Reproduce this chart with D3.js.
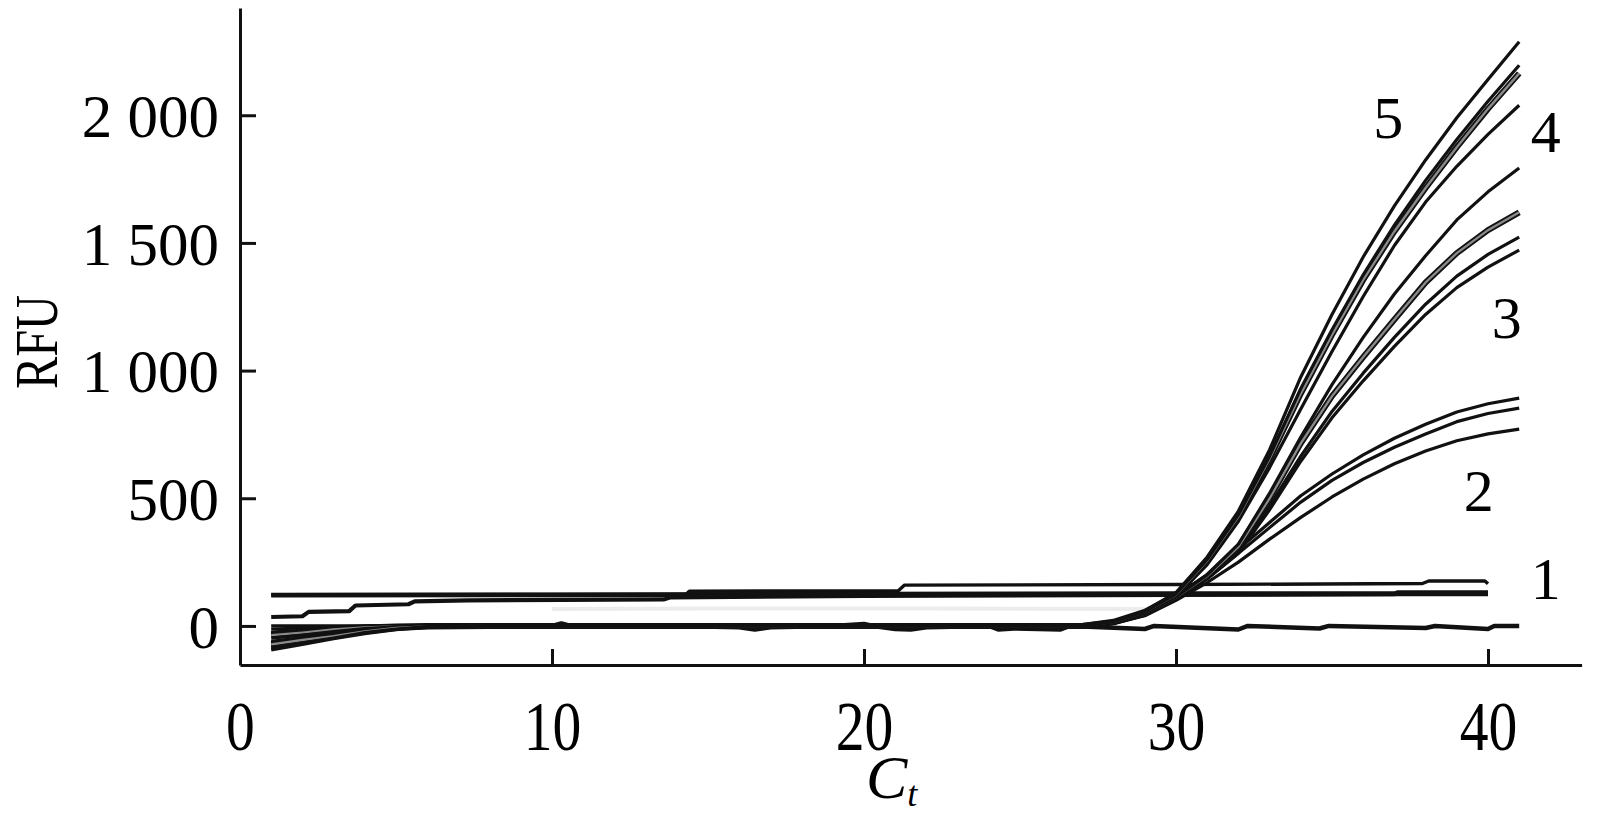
<!DOCTYPE html>
<html><head><meta charset="utf-8">
<script src="https://cdn.jsdelivr.net/npm/d3@7"></script>
<style>body{margin:0;background:#fff}svg{display:block}</style>
</head><body>
<svg id="chart" width="1599" height="815"></svg>
<script>
// ---- tick values / labels ----
const xTicks = [0, 10, 20, 30, 40];
const yTicks = [0, 500, 1000, 1500, 2000];
const yTickLabels = ["0", "500", "1 000", "1 500", "2 000"];

// ---- amplification curves: early noisy phase (cycles 1..8) ----
const startCycles = [1, 2, 3, 4, 5, 6, 8];
const start5a = [-94, -72, -50, -30, -15, -5, 0];
const start5b = [-85, -66, -48, -26, -12, -3, 0];
const start5c = [-72, -55, -40, -22, -8, -2, 0];
const start4a = [-60, -46, -30, -16, -5, 0, 0];
const start4b = [-48, -36, -22, -10, -4, 0, 0];
const start3a = [-36, -26, -14, -6, -2, 0, 0];
const start3b = [-24, -16, -8, -3, 0, 0, 0];
const start3c = [-12, -8, -4, -1, 0, 0, 0];
const start2a = [0, 0, 0, 0, 0, 0, 0];
const start2b = [-66, -52, -36, -20, -8, -2, 0];
const start2c = [-80, -60, -42, -24, -10, -3, 0];

// ---- amplification curves: exponential phase (cycles 27..41) ----
const ampCycles = [27, 28, 29, 30, 31, 32, 33, 34, 35, 36, 37, 38, 39, 40, 41];
const amp5a = [0, 18, 58, 130, 270, 450, 690, 975, 1220, 1445, 1645, 1825, 1990, 2140, 2288];
const amp5b = [0, 17, 56, 125, 260, 435, 665, 930, 1160, 1375, 1570, 1745, 1905, 2055, 2196];
const amp5c = [0, 16, 55, 122, 255, 428, 655, 910, 1140, 1355, 1545, 1715, 1875, 2025, 2164];
const amp4a = [0, 15, 52, 115, 240, 410, 620, 850, 1075, 1290, 1490, 1660, 1800, 1925, 2039];
const amp4b = [0, 14, 50, 115, 200, 320, 520, 740, 945, 1130, 1300, 1450, 1590, 1700, 1793];
const amp3a = [0, 14, 48, 112, 195, 310, 500, 715, 900, 1053, 1200, 1345, 1460, 1550, 1620];
const amp3b = [0, 13, 46, 110, 190, 295, 470, 665, 840, 990, 1130, 1260, 1370, 1455, 1523];
const amp3c = [0, 12, 45, 108, 185, 285, 455, 645, 815, 960, 1095, 1220, 1325, 1405, 1472];
const amp2a = [0, 12, 44, 110, 195, 300, 405, 510, 595, 670, 735, 790, 838, 870, 892];
const amp2b = [0, 11, 42, 106, 185, 285, 385, 485, 570, 640, 700, 752, 800, 832, 853];
const amp2c = [0, 10, 40, 100, 170, 250, 340, 425, 505, 575, 635, 685, 725, 752, 771];

// ---- negative controls (group 1) ----
const flat1Cycles = [1, 14.3, 14.4, 21.1, 21.3, 30, 37.9, 38.1, 39.9, 40];
const flat1Values = [122, 124, 136, 138, 160, 162, 166, 176, 176, 165];
const flat2Cycles = [1, 2, 2.2, 3.5, 3.7, 5.4, 5.6, 7.3, 13.6, 13.8, 20, 30, 37, 37.1, 40];
const flat2Values = [35, 38, 55, 58, 80, 85, 96, 100, 104, 112, 118, 122, 124, 132, 132];
const flat3Cycles = [1, 10, 20, 30, 40];
const flat3Values = [121, 122, 124, 126, 126];
const faintCycles = [10, 15, 22, 29];
const faintValues = [66, 68, 68, 66];

// ---- no-template baseline ----
const baseCycles = [1, 4, 7, 10, 10.3, 10.6, 14, 16, 16.5, 17, 19, 20, 20.3, 21, 21.5, 22, 24, 24.3, 24.8, 26.3, 26.6, 29, 29.3, 32, 32.3, 34.6, 34.9, 38, 38.3, 40, 40.2, 41];
const baseValues = [-30, -10, 0, 0, 10, 0, 0, -5, -14, -5, 0, 8, 0, -12, -14, -5, 0, -14, -10, -14, 0, -12, 0, -14, 0, -10, 0, -8, 0, -12, 0, 0];

// ---- curve labels ----
const labelTexts = ["5", "4", "3", "2", "1"];
const labelCycles = [36.8, 41.85, 40.6, 39.7, 41.85];
const labelValues = [1990, 1935, 1205, 530, 184];

// ---------------- drawing ----------------
const svg = d3.select("#chart");
const x = d3.scaleLinear().domain([0, 43]).range([240, 1581.6]);
const y = d3.scaleLinear().domain([-153, 2420]).range([665, 8]);
const font = "'Liberation Serif','Times New Roman',serif";

const line = d3.line().x(d => x(d[0])).y(d => y(d[1]));
const zip = (cs, vs) => cs.map((c, i) => [c, vs[i]]);
const ampCurve = (st, am) => zip(startCycles, st).concat(zip(ampCycles, am));

const plot = svg.append("g");

// faint gray artefact line
plot.append("path").attr("d", line(zip(faintCycles, faintValues)))
  .attr("fill", "none").attr("stroke", "#ececec").attr("stroke-width", 4);

// group 1 flat lines
[[flat1Cycles, flat1Values, 3.4], [flat2Cycles, flat2Values, 4.2], [flat3Cycles, flat3Values, 4.8]].forEach(([c, v, w]) => {
  plot.append("path").attr("d", line(zip(c, v)))
    .attr("fill", "none").attr("stroke", "#111").attr("stroke-width", w)
    .attr("stroke-linejoin", "round");
});

// baseline
plot.append("path").attr("d", line(zip(baseCycles, baseValues)))
  .attr("fill", "none").attr("stroke", "#111").attr("stroke-width", 4.5).attr("stroke-linejoin", "round");

const curves = [
  [start2c, amp2c, null], [start2b, amp2b, null], [start2a, amp2a, null],
  [start3c, amp3c, null], [start3b, amp3b, null], [start3a, amp3a, "#8a8a8a"],
  [start4b, amp4b, null], [start4a, amp4a, null],
  [start5c, amp5c, "#8a8a8a"], [start5b, amp5b, null], [start5a, amp5a, null]
];
curves.forEach(([st, am, inner]) => {
  const d = line(ampCurve(st, am));
  plot.append("path").attr("d", d).attr("fill", "none").attr("stroke", "#111")
    .attr("stroke-width", inner ? 6 : 3.2).attr("stroke-linejoin", "round");
  if (inner) plot.append("path").attr("d", d).attr("fill", "none")
    .attr("stroke", inner).attr("stroke-width", 2.4);
});

// axes
const xAxis = svg.append("g").attr("transform", `translate(0,${665})`)
  .call(d3.axisBottom(x).tickValues(xTicks).tickSize(-16).tickSizeOuter(0).tickFormat(d3.format("d")));
const yAxis = svg.append("g").attr("transform", `translate(${240},0)`)
  .call(d3.axisLeft(y).tickValues(yTicks).tickSize(-16).tickSizeOuter(0).tickFormat((d, i) => yTickLabels[i]));

[xAxis, yAxis].forEach(a => {
  a.select(".domain").attr("stroke", "#111").attr("stroke-width", 3);
  a.selectAll(".tick line").attr("stroke", "#111").attr("stroke-width", 3);
  a.selectAll("text").attr("fill", "#000").attr("font-family", font);
});
yAxis.selectAll("text").attr("font-size", 61).attr("x", -21).attr("dy", "0.35em");
xAxis.selectAll(".tick text").each(function () {
  d3.select(this).attr("font-size", 64).attr("y", 0).attr("dy", 0)
    .attr("transform", "translate(0,85) scale(0.9,1.08)");
});

// axis titles
svg.append("text").attr("font-family", font).attr("font-size", 62)
  .attr("text-anchor", "middle").attr("dominant-baseline", "central")
  .attr("transform", `translate(36,342) rotate(-90) scale(0.78,1)`).text("RFU");

const ct = svg.append("text").attr("font-family", font).attr("font-size", 62)
  .attr("font-style", "italic").attr("x", 866).attr("y", 798);
ct.append("tspan").text("C");
ct.append("tspan").attr("font-size", 36).attr("dy", 8).text("t");

// curve labels
labelTexts.forEach((t, i) => {
  svg.append("text").attr("font-family", font).attr("font-size", 60)
    .attr("text-anchor", "middle").attr("dominant-baseline", "central")
    .attr("x", x(labelCycles[i])).attr("y", y(labelValues[i])).text(t);
});
</script>
</body></html>
